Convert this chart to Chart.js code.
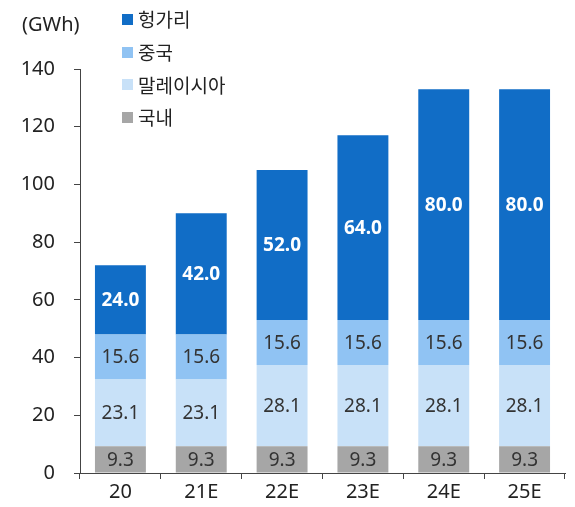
<!DOCTYPE html>
<html>
<head>
<meta charset="utf-8">
<script src="https://cdn.jsdelivr.net/npm/chart.js@4"></script>
<style>
  body { margin: 0; background: #fff; font-family: "Noto Sans", "Noto Sans CJK KR", sans-serif; }
  #wrap { position: relative; width: 575px; height: 507px; }
  #unit { position: absolute; left: 22px; top: 10px; font-size: 20px; line-height: 28px; color: #222; }
  #legend { position: absolute; left: 122px; top: 3px; font-size: 19px; color: #222; }
  .item { height: 32.7px; display: flex; align-items: center; }
  .box { width: 11px; height: 11px; margin-right: 5px; }
</style>
</head>
<body>
<div id="wrap">
  <canvas id="chart" width="575" height="507"></canvas>
  <div id="unit">(GWh)</div>
  <div id="legend"></div>
</div>
<script>
const categories = ['20', '21E', '22E', '23E', '24E', '25E'];
const domestic = [9.3, 9.3, 9.3, 9.3, 9.3, 9.3];
const malaysia = [23.1, 23.1, 28.1, 28.1, 28.1, 28.1];
const china = [15.6, 15.6, 15.6, 15.6, 15.6, 15.6];
const hungary = [24.0, 42.0, 52.0, 64.0, 80.0, 80.0];
const yTicks = [0, 20, 40, 60, 80, 100, 120, 140];

const FONT = '"Noto Sans", "Noto Sans CJK KR", sans-serif';

// Draw value labels in the middle of each bar segment
const valueLabels = {
  id: 'valueLabels',
  afterDatasetsDraw(chart) {
    const ctx = chart.ctx;
    ctx.save();
    ctx.textAlign = 'center';
    ctx.textBaseline = 'middle';
    chart.data.datasets.forEach((ds, i) => {
      const meta = chart.getDatasetMeta(i);
      meta.data.forEach((bar, j) => {
        const y = (bar.y + bar.base) / 2;
        ctx.fillStyle = ds.labelColor;
        ctx.font = (ds.labelBold ? 'bold ' : '') + '19px ' + FONT;
        ctx.fillText(ds.data[j].toFixed(1), bar.x, y + 1);
      });
    });
    ctx.restore();
  }
};

const chart = new Chart(document.getElementById('chart'), {
  type: 'bar',
  data: {
    labels: categories,
    datasets: [
      { label: '국내', data: domestic, backgroundColor: '#a6a6a6', labelColor: '#333', labelBold: false },
      { label: '말레이시아', data: malaysia, backgroundColor: '#c8e1f8', labelColor: '#333', labelBold: false },
      { label: '중국', data: china, backgroundColor: '#90c3f3', labelColor: '#333', labelBold: false },
      { label: '헝가리', data: hungary, backgroundColor: '#116dc6', labelColor: '#fff', labelBold: true }
    ]
  },
  options: {
    responsive: false,
    animation: false,
    layout: { padding: { top: 69, right: 10, bottom: 0, left: 0 } },
    datasets: {
      bar: { categoryPercentage: 1, barPercentage: 0.63 }
    },
    plugins: {
      legend: { display: false },
      tooltip: { enabled: false }
    },
    scales: {
      x: {
        stacked: true,
        afterFit: (s) => { s.height = 34; },
        grid: { drawOnChartArea: false, tickLength: 6, color: '#444' },
        border: { color: '#444', width: 1 },
        ticks: { color: '#222', font: { family: FONT, size: 20 }, padding: 1 }
      },
      y: {
        stacked: true,
        min: 0,
        max: 140,
        afterFit: (s) => { s.width = 80; },
        afterBuildTicks: (s) => { s.ticks = yTicks.map(v => ({ value: v })); },
        grid: { drawOnChartArea: false, tickLength: 6, color: '#444' },
        border: { color: '#444', width: 1 },
        ticks: { color: '#222', font: { family: FONT, size: 20 }, padding: 19 }
      }
    }
  },
  plugins: [valueLabels]
});

// Legend built from the datasets, top series first
const legend = document.getElementById('legend');
chart.data.datasets.slice().reverse().forEach(ds => {
  const item = document.createElement('div');
  item.className = 'item';
  item.innerHTML = `<span class="box" style="background:${ds.backgroundColor}"></span>${ds.label}`;
  legend.appendChild(item);
});
</script>
</body>
</html>
